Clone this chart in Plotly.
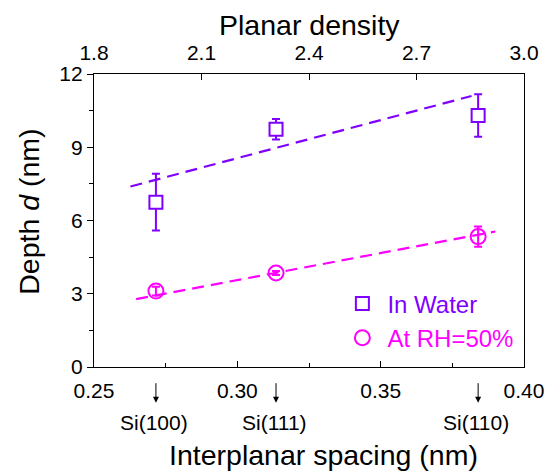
import plotly.graph_objects as go

# ---- data ----
spacing = [0.2716, 0.3135, 0.3840]          # interplanar spacing (nm)
planes = ["Si(100)", "Si(111)", "Si(110)"]
water_depth = [6.75, 9.74, 10.30]
water_err = [1.16, 0.42, 0.87]
rh_depth = [3.11, 3.85, 5.34]
rh_err = [0.18, 0.08, 0.41]
water_fit_x = [0.2627, 0.3817]
water_fit_y = [7.39, 11.10]
rh_fit_x = [0.2647, 0.3900]
rh_fit_y = [2.78, 5.55]
density_range = [1.8, 3.0]

PURPLE = "#8000ff"
MAGENTA = "#ff00ff"
FONT = "Arial, Liberation Sans, sans-serif"

fig = go.Figure()

fig.add_trace(go.Scatter(x=water_fit_x, y=water_fit_y, mode="lines",
                         line=dict(color=PURPLE, width=2.2, dash="12px,7px"),
                         showlegend=False, hoverinfo="skip"))
fig.add_trace(go.Scatter(x=rh_fit_x, y=rh_fit_y, mode="lines",
                         line=dict(color=MAGENTA, width=2.2, dash="12px,7px"),
                         showlegend=False, hoverinfo="skip"))

fig.add_trace(go.Scatter(
    x=spacing, y=water_depth, mode="markers",
    name=f"<span style='color:{PURPLE}'>In Water</span>",
    marker=dict(symbol="square", size=13, color="white",
                line=dict(color=PURPLE, width=2)),
    error_y=dict(type="data", array=water_err, color=PURPLE, thickness=2, width=4),
))
fig.add_trace(go.Scatter(
    x=spacing, y=rh_depth, mode="markers",
    name=f"<span style='color:{MAGENTA}'>At RH=50%</span>",
    marker=dict(symbol="circle-open", size=15, color=MAGENTA,
                line=dict(color=MAGENTA, width=2)),
    error_y=dict(type="data", array=rh_err, color=MAGENTA, thickness=2, width=4),
))

# invisible trace to activate top axis
fig.add_trace(go.Scatter(x=density_range, y=[None, None], xaxis="x2", yaxis="y",
                         mode="markers", showlegend=False, hoverinfo="skip"))

axis_common = dict(showline=True, linecolor="black", linewidth=1.3, showgrid=False,
                   zeroline=False, tickcolor="black",
                   tickfont=dict(size=21, color="black", family=FONT))

fig.update_layout(
    width=556, height=475,
    margin=dict(l=94, r=22, t=74, b=108),
    paper_bgcolor="white", plot_bgcolor="white",
    font=dict(family=FONT, color="black"),
    xaxis=dict(range=[0.25, 0.40], dtick=0.05, tick0=0.25, tickformat=".2f",
               ticks="inside", ticklen=6, mirror=True, ticklabelstandoff=5,
               minor=dict(dtick=0.025, tick0=0.25, ticks="inside", ticklen=4, tickcolor="black"),
               **axis_common),
    xaxis2=dict(range=density_range, dtick=0.3, tick0=1.8, tickformat=".1f",
                overlaying="x", side="top", anchor="y", ticklabelstandoff=4,
                ticks="inside", ticklen=6, **axis_common),
    yaxis=dict(range=[0, 12], dtick=3, tick0=0, ticks="outside", ticklen=6, mirror=True,
               minor=dict(dtick=1.5, tick0=0, ticks="outside", ticklen=4, tickcolor="black"),
               **axis_common),
    legend=dict(x=0.566, y=0.292, xanchor="left", yanchor="top", itemwidth=40,
                tracegroupgap=0,
                bgcolor="rgba(0,0,0,0)", font=dict(size=24, family=FONT)),
)

annotations = [
    dict(text="Planar density", xref="paper", yref="paper", x=0.5, y=1.168,
         showarrow=False, font=dict(size=28.5), xanchor="center", yanchor="middle"),
    dict(text="Interplanar spacing (nm)", xref="paper", yref="paper", x=0.533, y=-0.302,
         showarrow=False, font=dict(size=28.5), xanchor="center", yanchor="middle"),
    dict(text="Depth <i>d</i> (nm)", xref="paper", yref="paper", x=-0.151, y=0.53,
         showarrow=False, font=dict(size=28.5), textangle=-90,
         xanchor="center", yanchor="middle"),
]
for xv, lab in zip(spacing, planes):
    annotations.append(dict(text="", xref="x", yref="paper", x=xv, y=-0.1217,
                            ax=0, ay=-21, showarrow=True, arrowhead=2, arrowsize=1.2,
                            arrowwidth=1, arrowcolor="black"))
    annotations.append(dict(text=lab, xref="x", yref="paper", x=xv, y=-0.191,
                            xshift=-2, showarrow=False, font=dict(size=21),
                            xanchor="center", yanchor="middle"))
fig.update_layout(annotations=annotations)

fig.write_html("out.html")
